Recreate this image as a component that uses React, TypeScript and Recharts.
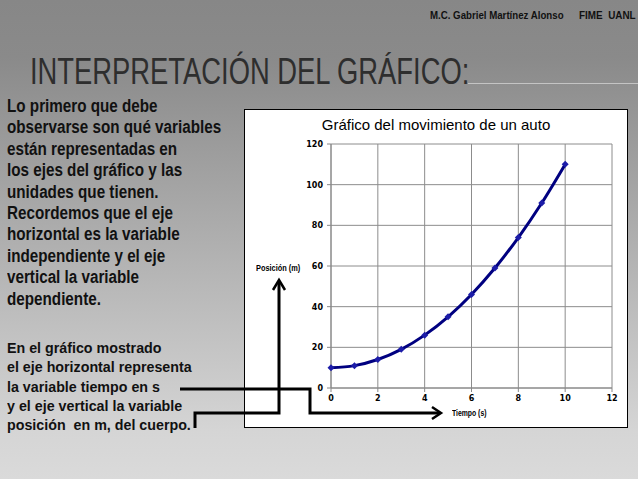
import { LineChart, Line, XAxis, YAxis, CartesianGrid } from "recharts";

const tiempo = [0, 1, 2, 3, 4, 5, 6, 7, 8, 9, 10];
const posicion = [10, 11, 14, 19, 26, 35, 46, 59, 74, 91, 110];
const xTicks = [0, 2, 4, 6, 8, 10, 12];
const yTicks = [0, 20, 40, 60, 80, 100, 120];

const parrafo1 = [
  "Lo primero que debe",
  "observarse son qué variables",
  "están representadas en",
  "los ejes del gráfico y las",
  "unidades que tienen.",
  "Recordemos que el eje",
  "horizontal es la variable",
  "independiente y el eje",
  "vertical la variable",
  "dependiente.",
];

const parrafo2 = [
  "En el gráfico mostrado",
  "el eje horizontal representa",
  "la variable tiempo en s",
  "y el eje vertical la variable",
  "posición  en m, del cuerpo.",
];

const data = tiempo.map((t, i) => ({ t, pos: posicion[i] }));

const Diamond = (props: any) => {
  const { cx, cy, index } = props;
  if (cx == null || cy == null) return null;
  return (
    <path
      key={index}
      d={`M${cx},${cy - 3.5} L${cx + 3.5},${cy} L${cx},${cy + 3.5} L${cx - 3.5},${cy} Z`}
      fill="#1c1ca8"
    />
  );
};

const tickStyle = { fill: "#000", fontSize: 8, fontWeight: 700, fontFamily: "DejaVu Sans" };
const textFont = "'Liberation Sans', Arial, sans-serif";

// narrow text: Liberation Sans squeezed horizontally
const narrow = (sx: number) => ({
  transform: `scaleX(${sx})`,
  transformOrigin: "left top",
  whiteSpace: "pre" as const,
});

export default function App() {
  return (
    <div
      style={{
        position: "absolute",
        left: 0,
        top: 0,
        width: 638,
        height: 479,
        overflow: "hidden",
        background: "linear-gradient(to bottom, #878787 0%, #8a8a8a 12%, #d5d5d5 90%, #dadada 100%)",
        fontFamily: textFont,
      }}
    >
      {/* header */}
      <div style={{ position: "absolute", left: 430, top: 9, fontSize: 11, fontWeight: 700, color: "#111", ...narrow(0.88) }}>
        M.C. Gabriel Martínez Alonso
      </div>
      <div style={{ position: "absolute", left: 579, top: 9, fontSize: 11, fontWeight: 700, color: "#111", ...narrow(0.9) }}>
        {"FIME  UANL"}
      </div>

      {/* title */}
      <div
        style={{
          position: "absolute",
          left: 30,
          top: 52,
          fontSize: 36,
          color: "#2e2e2e",
          lineHeight: "40px",
          ...narrow(0.76),
        }}
      >
        INTERPRETACIÓN DEL GRÁFICO:
      </div>
      <div style={{ position: "absolute", left: 468, top: 83, width: 170, height: 1, background: "#c4c4c4" }} />

      {/* left text */}
      <div
        style={{
          position: "absolute",
          left: 7,
          top: 96,
          fontSize: 17.5,
          lineHeight: "21.4px",
          fontWeight: 700,
          color: "#111",
          ...narrow(0.87),
        }}
      >
        {parrafo1.map((l) => (
          <div key={l}>{l}</div>
        ))}
      </div>
      <div
        style={{
          position: "absolute",
          left: 7,
          top: 338,
          fontSize: 15.5,
          lineHeight: "19.3px",
          fontWeight: 700,
          color: "#111",
          ...narrow(0.92),
        }}
      >
        {parrafo2.map((l) => (
          <div key={l}>{l}</div>
        ))}
      </div>

      {/* chart box */}
      <div
        style={{
          position: "absolute",
          left: 244,
          top: 109,
          width: 384,
          height: 319,
          boxSizing: "border-box",
          border: "1px solid #000",
          background: "#fff",
        }}
      >
        <div
          style={{
            position: "absolute",
            left: 0,
            width: 382,
            top: 6,
            textAlign: "center",
            fontSize: 15,
            color: "#000",
          }}
        >
          Gráfico del movimiento de un auto
        </div>
        <div style={{ position: "absolute", left: 11, top: 153, fontSize: 9, fontWeight: 700, color: "#000", ...narrow(0.82) }}>
          Posición (m)
        </div>
        <div style={{ position: "absolute", left: 207, top: 298, fontSize: 9, fontWeight: 700, color: "#000", ...narrow(0.76) }}>
          Tiempo (s)
        </div>
        <LineChart
          width={382}
          height={317}
          data={data}
          margin={{ top: 34, right: 15, left: 56, bottom: 0 }}
        >
          <CartesianGrid stroke="#8c8c8c" strokeWidth={1} />
          <XAxis
            dataKey="t"
            type="number"
            domain={[0, 12]}
            ticks={xTicks}
            height={39}
            stroke="#888"
            tickSize={4}
            tickMargin={3}
            tick={tickStyle}
            interval={0}
          />
          <YAxis
            type="number"
            domain={[0, 120]}
            ticks={yTicks}
            width={30}
            stroke="#888"
            tickSize={4}
            tickMargin={4}
            tick={tickStyle}
            interval={0}
          />
          <Line
            type="monotone"
            dataKey="pos"
            stroke="#000080"
            strokeWidth={3}
            dot={<Diamond />}
            activeDot={false}
            isAnimationActive={false}
          />
        </LineChart>
      </div>

      {/* connector arrows */}
      <svg
        width={638}
        height={479}
        style={{ position: "absolute", left: 0, top: 0, pointerEvents: "none" }}
      >
        <g fill="none" stroke="#000" strokeWidth={3}>
          <path d="M180,389 H310 V413 H440" />
          <path d="M432,407 L441,413 L432,419" strokeWidth={2.5} />
          <path d="M195,428 V413 H279 V282" />
          <path d="M273,290 L279,280 L285,290" strokeWidth={2.5} />
        </g>
      </svg>
    </div>
  );
}
